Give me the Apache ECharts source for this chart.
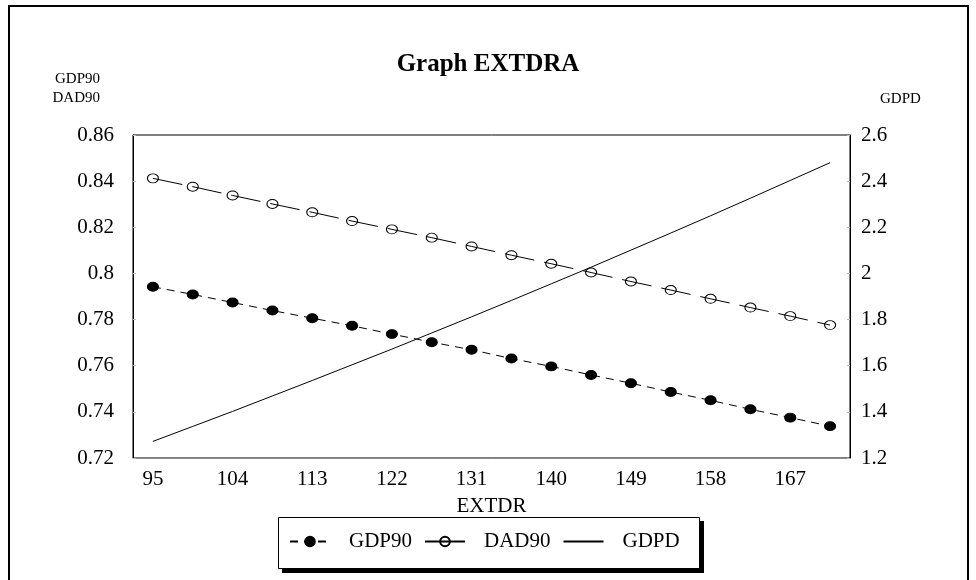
<!DOCTYPE html>
<html>
<head>
<meta charset="utf-8">
<script src="https://cdn.jsdelivr.net/npm/echarts@6/dist/echarts.min.js"></script>
<style>
html,body{margin:0;padding:0;background:#fff;}
#chart{width:976px;height:580px;}
</style>
</head>
<body>
<div id="chart"></div>
<script>
const categories = ["95","99.5","104","108.5","113","117.5","122","126.5","131","135.5","140","144.5","149","153.5","158","162.5","167","171.5"];
const gdp90 = [0.7942,0.7909,0.7874,0.7839,0.7806,0.7773,0.7737,0.7702,0.7669,0.7631,0.7597,0.7560,0.7524,0.7486,0.7450,0.7411,0.7375,0.7338];
const dad90 = [0.8412,0.8376,0.8338,0.8301,0.8265,0.8227,0.8191,0.8155,0.8117,0.8079,0.8042,0.8004,0.7965,0.7928,0.7890,0.7852,0.7815,0.7776];
const gdpd = [1.272,1.337,1.402,1.469,1.536,1.604,1.672,1.742,1.812,1.883,1.955,2.027,2.101,2.175,2.250,2.326,2.403,2.480];
const titleText = "Graph EXTDRA";
const xName = "EXTDR";
const leftName = "GDP90\nDAD90";
const rightName = "GDPD";

const FONT = "'Liberation Serif', 'Times New Roman', serif";
const chart = echarts.init(document.getElementById('chart'), null, {renderer: 'canvas'});
chart.setOption({
  backgroundColor: '#fff',
  animation: false,
  textStyle: {fontFamily: FONT, color: '#000'},
  title: {
    text: titleText, left: 'center', top: 47,
    textStyle: {fontFamily: FONT, fontWeight: 'bold', fontSize: 25, color: '#000'}
  },
  grid: {left: 133, right: 126, top: 135, bottom: 122, show: true, borderColor: '#000', borderWidth: 1, containLabel: false},
  legend: {
    left: 289, top: 531,
    padding: 0,
    itemGap: 12, itemWidth: 40, itemHeight: 12,
    textStyle: {fontFamily: FONT, fontSize: 21, color: '#000', padding: [0, 0, 0, 14]},
    data: ['GDP90', {name: 'DAD90', lineStyle: {type: 'solid'}}, {name: 'GDPD', itemStyle: {opacity: 0}}],
    z: 110
  },
  xAxis: {
    type: 'category', data: categories, boundaryGap: true,
    name: xName, nameLocation: 'middle', nameGap: 38,
    nameTextStyle: {fontFamily: FONT, fontSize: 21, color: '#000'},
    axisLine: {lineStyle: {color: '#888', width: 1}},
    axisTick: {show: false},
    axisLabel: {interval: 1, margin: 11, fontFamily: FONT, fontSize: 21, color: '#000'},
    splitLine: {show: false}
  },
  yAxis: [{
    type: 'value', min: 0.72, max: 0.86, interval: 0.02, position: 'left',
    name: leftName, nameLocation: 'end', nameGap: 27,
    nameTextStyle: {fontFamily: FONT, fontSize: 15, color: '#000', align: 'right', verticalAlign: 'bottom', lineHeight: 19, padding: [0, 33, 0, 0]},
    axisLine: {show: true, lineStyle: {color: '#000', width: 1}},
    axisTick: {show: true, inside: true, length: 3, lineStyle: {color: '#bbb'}},
    axisLabel: {margin: 19, fontFamily: FONT, fontSize: 21, color: '#000'},
    splitLine: {show: false}
  }, {
    type: 'value', min: 1.2, max: 2.6, interval: 0.2, position: 'right',
    name: rightName, nameLocation: 'end', nameGap: 28,
    nameTextStyle: {fontFamily: FONT, fontSize: 15, color: '#000', align: 'left', verticalAlign: 'bottom', padding: [0, 0, 0, 30]},
    axisLine: {show: true, lineStyle: {color: '#000', width: 1}},
    axisTick: {show: true, inside: true, length: 3, lineStyle: {color: '#bbb'}},
    axisLabel: {margin: 11, fontFamily: FONT, fontSize: 21, color: '#000'},
    splitLine: {show: false}
  }],
  series: [{
    name: 'GDP90', type: 'line', yAxisIndex: 0, data: gdp90,
    symbol: 'circle', symbolSize: [11, 9], showAllSymbol: true,
    lineStyle: {color: '#000', width: 1, type: [8, 6]},
    itemStyle: {color: '#000', borderColor: '#000', borderWidth: 1}
  }, {
    name: 'DAD90', type: 'line', yAxisIndex: 0, data: dad90,
    symbol: 'circle', symbolSize: [11, 9], showAllSymbol: true,
    lineStyle: {color: '#000', width: 1, type: [30, 10]},
    itemStyle: {color: 'rgba(255,255,255,0)', borderColor: '#000', borderWidth: 1}
  }, {
    name: 'GDPD', type: 'line', yAxisIndex: 1, data: gdpd,
    symbol: 'none', showSymbol: false,
    lineStyle: {color: '#000', width: 1},
    itemStyle: {color: '#000'}
  }],
  graphic: [{
    type: 'rect', shape: {x: 9, y: 6, width: 959, height: 590},
    style: {fill: null, stroke: '#000', lineWidth: 2}, silent: true, z: 100
  }, {
    type: 'rect', shape: {x: 282, y: 521, width: 422, height: 52},
    style: {fill: '#000', stroke: null}, silent: true, z: 100
  }, {
    type: 'rect', shape: {x: 278.5, y: 517.5, width: 421, height: 51},
    style: {fill: '#fff', stroke: '#000', lineWidth: 1}, silent: true, z: 101
  }]
});
</script>
</body>
</html>
